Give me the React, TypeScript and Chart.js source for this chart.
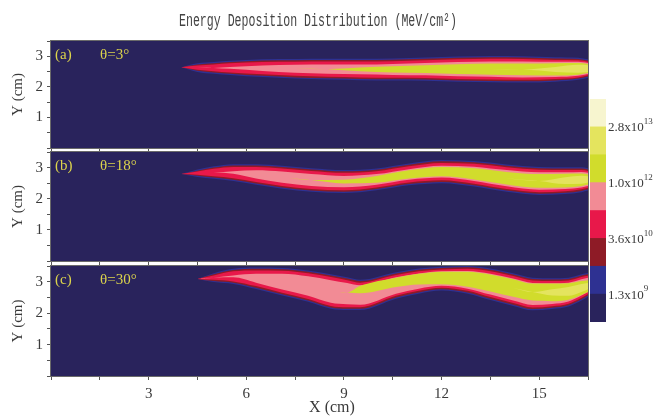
import React, { useEffect, useRef } from "react";
import { Chart, registerables } from "chart.js";

Chart.register(...registerables);

// ---- axis ticks ----
const xTickLabels = [3, 6, 9, 12, 15];
const yTickLabels = [1, 2, 3];

// ---- panel captions ----
const panelNames = ["(a)", "(b)", "(c)"];
const panelAngles = ["θ=3°", "θ=18°", "θ=30°"];

// ---- contour level colours, lowest level first ----
const levelColors = [
  "#29235c",
  "#2e3192",
  "#8e1b26",
  "#e8184a",
  "#f28b95",
  "#d1dc2c",
  "#e4e45e",
  "#f7f5cf",
];

// ---- colour bar ----
const colorbarBandSpan = [1, 1, 1, 1, 1, 1, 1, 1];
const colorbarLabelAt = [1, 3, 5, 7];
const colorbarMantissa = ["1.3", "3.6", "1.0", "2.8"];
const colorbarExponent = ["9", "10", "12", "13"];

// ---- beam ribbon: (a) θ=3° ----
const xA = [4.0, 4.5, 5.0, 5.5, 6.5, 7.5, 8.5, 9.5, 10.5, 11.5, 12.5, 13.5, 14.5, 15.5, 16.2, 16.5];
const centerA = [2.64, 2.63, 2.62, 2.62, 2.61, 2.59, 2.58, 2.57, 2.57, 2.58, 2.58, 2.58, 2.57, 2.57, 2.59, 2.6];
// half-widths of each contour level (outermost first)
const widthsA = [
  [0, 0.14, 0.19, 0.23, 0.29, 0.32, 0.34, 0.35, 0.36, 0.38, 0.41, 0.43, 0.43, 0.4, 0.36, 0.3],
  [0, 0.1, 0.15, 0.19, 0.25, 0.28, 0.3, 0.31, 0.32, 0.34, 0.37, 0.39, 0.39, 0.36, 0.32, 0.26],
  [0, 0.07, 0.11, 0.15, 0.2, 0.23, 0.25, 0.26, 0.27, 0.29, 0.32, 0.34, 0.34, 0.31, 0.28, 0.22],
  [0, 0, 0, 0.03, 0.09, 0.13, 0.15, 0.16, 0.18, 0.2, 0.23, 0.25, 0.26, 0.25, 0.23, 0.18],
  [0, 0, 0, 0, 0, 0, 0, 0.06, 0.1, 0.13, 0.16, 0.18, 0.19, 0.2, 0.19, 0.15],
  [0, 0, 0, 0, 0, 0, 0, 0, 0, 0, 0, 0, 0, 0.08, 0.13, 0.11],
];

// ---- beam ribbon: (b) θ=18° ----
const xB = [4.0, 4.5, 5.0, 5.6, 6.3, 7.1, 8.0, 9.0, 10.0, 11.0, 12.0, 13.0, 14.0, 15.0, 15.8, 16.3, 16.5];
const centerB = [2.79, 2.82, 2.84, 2.84, 2.78, 2.69, 2.6, 2.55, 2.62, 2.78, 2.87, 2.8, 2.66, 2.57, 2.58, 2.61, 2.62];
const widthsB = [
  [0, 0.12, 0.2, 0.27, 0.33, 0.37, 0.38, 0.37, 0.35, 0.35, 0.37, 0.41, 0.44, 0.45, 0.43, 0.4, 0.36],
  [0, 0.08, 0.16, 0.23, 0.29, 0.33, 0.34, 0.33, 0.31, 0.31, 0.33, 0.37, 0.4, 0.41, 0.39, 0.36, 0.32],
  [0, 0.05, 0.12, 0.18, 0.24, 0.28, 0.29, 0.28, 0.26, 0.26, 0.28, 0.32, 0.35, 0.36, 0.34, 0.31, 0.27],
  [0, 0, 0, 0.04, 0.13, 0.18, 0.19, 0.18, 0.17, 0.17, 0.19, 0.23, 0.26, 0.28, 0.27, 0.25, 0.21],
  [0, 0, 0, 0, 0, 0, 0, 0.06, 0.11, 0.13, 0.15, 0.18, 0.2, 0.22, 0.22, 0.2, 0.16],
  [0, 0, 0, 0, 0, 0, 0, 0, 0, 0, 0, 0, 0, 0, 0.11, 0.13, 0.1],
];

// ---- beam ribbon: (c) θ=30° ----
const xC = [4.5, 5.0, 5.6, 6.3, 7.1, 7.9, 8.6, 9.1, 9.5, 10.6, 11.3, 12.0, 12.8, 13.5, 14.2, 14.8, 15.4, 15.9, 16.3, 16.5];
const centerC = [3.09, 3.13, 3.17, 3.11, 3.0, 2.86, 2.69, 2.62, 2.58, 2.88, 3.02, 3.1, 3.06, 2.92, 2.75, 2.61, 2.62, 2.67, 2.82, 2.9];
// the hot core rides in the upper part of the ribbon after the first dip
const coreC = [3.09, 3.13, 3.17, 3.11, 3.0, 2.86, 2.69, 2.66, 2.75, 2.98, 3.08, 3.12, 3.08, 2.96, 2.8, 2.67, 2.66, 2.69, 2.8, 2.86];
const widthsC = [
  [0, 0.14, 0.24, 0.34, 0.44, 0.5, 0.55, 0.52, 0.48, 0.42, 0.4, 0.38, 0.44, 0.5, 0.52, 0.52, 0.49, 0.46, 0.42, 0.38],
  [0, 0.11, 0.2, 0.3, 0.4, 0.46, 0.51, 0.48, 0.44, 0.38, 0.36, 0.34, 0.4, 0.46, 0.48, 0.48, 0.45, 0.42, 0.38, 0.34],
  [0, 0.07, 0.16, 0.25, 0.35, 0.41, 0.46, 0.43, 0.39, 0.33, 0.31, 0.29, 0.35, 0.41, 0.43, 0.43, 0.4, 0.37, 0.33, 0.29],
  [0, 0, 0.03, 0.14, 0.25, 0.31, 0.36, 0.34, 0.31, 0.26, 0.24, 0.23, 0.28, 0.33, 0.35, 0.35, 0.33, 0.3, 0.26, 0.23],
  [0, 0, 0, 0, 0, 0, 0, 0, 0.12, 0.15, 0.17, 0.2, 0.24, 0.27, 0.28, 0.27, 0.28, 0.26, 0.22, 0.19],
  [0, 0, 0, 0, 0, 0, 0, 0, 0, 0, 0, 0, 0, 0, 0, 0, 0.1, 0.14, 0.13, 0.1],
];

const panelX = [xA, xB, xC];
const panelCenter = [centerA, centerB, centerC];
const panelCore = [centerA, centerB, coreC];
const panelWidths = [widthsA, widthsB, widthsC];

// ---- page layout (pixels) ----
const PAGE_W = 661;
const PAGE_H = 418;
const PLOT_LEFT = 51;
const PLOT_RIGHT = 588;
const PANEL_BOXES = [
  { top: 41, bottom: 148 },
  { top: 152, bottom: 261 },
  { top: 266, bottom: 376 },
];
const BAR_BOX = { left: 590, right: 606, top: 99, bottom: 322 };
const CORE_LEVEL = 4; // levels from this index on follow the core line

const SERIF = '"Liberation Serif", "DejaVu Serif", serif';
const TEXT_GRAY = "#3a3a3a";
const CAPTION_YELLOW = "#dcd44c";

// Builds upper/lower boundary pairs for each contour level; the upper
// line fills down to the lower one.
function ribbonDatasets(xs: number[], center: number[], core: number[], widths: number[][]) {
  const sets: any[] = [];
  widths.forEach((hw, k) => {
    const color = levelColors[k + 1];
    const mid = k >= CORE_LEVEL ? core : center;
    const common = {
      borderWidth: 0,
      borderColor: "rgba(0,0,0,0)",
      pointRadius: 0,
      cubicInterpolationMode: "monotone",
    };
    sets.push({
      ...common,
      data: xs.map((x, i) => ({ x, y: mid[i] + hw[i] })),
      fill: "+1",
      backgroundColor: color,
      order: 100 - 2 * k,
    });
    sets.push({
      ...common,
      data: xs.map((x, i) => ({ x, y: mid[i] - hw[i] })),
      fill: false,
      order: 99 - 2 * k,
    });
  });
  return sets;
}

const plotBackground = {
  id: "plotBackground",
  beforeDatasetsDraw(chart: any) {
    const { ctx, chartArea: a } = chart;
    ctx.save();
    ctx.fillStyle = levelColors[0];
    ctx.fillRect(a.left, a.top, a.right - a.left, a.bottom - a.top);
    ctx.restore();
  },
};

const plotFrame = {
  id: "plotFrame",
  afterDraw(chart: any) {
    const { ctx, chartArea: a } = chart;
    ctx.save();
    ctx.strokeStyle = "#6a6a6a";
    ctx.lineWidth = 1;
    ctx.strokeRect(a.left - 0.5, a.top - 0.5, a.right - a.left + 1, a.bottom - a.top + 1);
    ctx.restore();
  },
};

function panelCaptions(i: number) {
  return {
    id: "panelCaptions" + i,
    afterDraw(chart: any) {
      const { ctx, chartArea: a } = chart;
      ctx.save();
      ctx.fillStyle = CAPTION_YELLOW;
      ctx.font = "15px " + SERIF;
      ctx.textBaseline = "middle";
      ctx.textAlign = "left";
      ctx.fillText(panelNames[i], 55, a.top + 14);
      ctx.fillText(panelAngles[i], 100, a.top + 14);

      // y axis title
      ctx.fillStyle = TEXT_GRAY;
      ctx.translate(18, (a.top + a.bottom) / 2);
      ctx.rotate(-Math.PI / 2);
      ctx.textAlign = "center";
      ctx.fillText("Y (cm)", 0, 0);
      ctx.restore();

      if (i === 0) {
        // figure title, narrow monospaced face
        const title = "Energy Deposition Distribution (MeV/cm²)";
        ctx.save();
        ctx.font = '18px "Liberation Mono", monospace';
        const w = ctx.measureText(title).width;
        const target = 278;
        ctx.translate(318, 26);
        ctx.scale(target / w, 1);
        ctx.fillStyle = "#444";
        ctx.textAlign = "center";
        ctx.textBaseline = "alphabetic";
        ctx.fillText(title, 0, 0);
        ctx.restore();
      }
      if (i === 2) {
        ctx.save();
        ctx.fillStyle = TEXT_GRAY;
        ctx.font = "16px " + SERIF;
        ctx.textAlign = "center";
        ctx.textBaseline = "middle";
        ctx.fillText("X (cm)", 332, 408);
        ctx.restore();
      }
    },
  };
}

function panelConfig(i: number): any {
  const last = i === 2;
  const box = PANEL_BOXES[i];
  const xAxisH = last ? 40 : 4;
  const tickFont = { family: SERIF, size: 15 };
  return {
    type: "line",
    data: { datasets: ribbonDatasets(panelX[i], panelCenter[i], panelCore[i], panelWidths[i]) },
    options: {
      responsive: false,
      animation: false,
      events: [],
      layout: {
        padding: {
          left: 0,
          top: box.top,
          right: PAGE_W - PLOT_RIGHT,
          bottom: PAGE_H - box.bottom - xAxisH,
        },
      },
      plugins: {
        legend: { display: false },
        tooltip: { enabled: false },
        title: { display: false },
      },
      scales: {
        x: {
          type: "linear",
          min: 0,
          max: 16.5,
          afterFit: (s: any) => {
            s.height = xAxisH;
          },
          ticks: {
            display: last,
            stepSize: 1.5,
            autoSkip: false,
            maxRotation: 0,
            padding: 5,
            color: TEXT_GRAY,
            font: tickFont,
            callback: (v: number) => (xTickLabels.includes(v) ? String(v) : ""),
          },
          grid: { drawOnChartArea: false, drawTicks: true, tickLength: 4, color: "#555" },
          border: { display: true, color: "#6a6a6a" },
        },
        y: {
          type: "linear",
          min: 0,
          max: 3.5,
          afterFit: (s: any) => {
            s.width = PLOT_LEFT;
          },
          ticks: {
            stepSize: 0.5,
            autoSkip: false,
            padding: 4,
            color: TEXT_GRAY,
            font: tickFont,
            callback: (v: number) => (yTickLabels.includes(v) ? String(v) : ""),
          },
          grid: { drawOnChartArea: false, drawTicks: true, tickLength: 4, color: "#555" },
          border: { display: true, color: "#6a6a6a" },
        },
      },
    },
    plugins: [plotBackground, plotFrame, panelCaptions(i)],
  };
}

const colorbarLabels = {
  id: "colorbarLabels",
  afterDraw(chart: any) {
    const { ctx } = chart;
    const yScale = chart.scales.y;
    ctx.save();
    ctx.fillStyle = TEXT_GRAY;
    ctx.textBaseline = "middle";
    ctx.textAlign = "left";
    colorbarLabelAt.forEach((v, k) => {
      const y = yScale.getPixelForValue(v);
      const base = colorbarMantissa[k] + "x10";
      ctx.font = "13px " + SERIF;
      ctx.fillText(base, BAR_BOX.right + 2, y + 1);
      const w = ctx.measureText(base).width;
      ctx.font = "9px " + SERIF;
      ctx.fillText(colorbarExponent[k], BAR_BOX.right + 2 + w, y - 5);
    });
    ctx.restore();
  },
};

function colorbarConfig(): any {
  return {
    type: "bar",
    data: {
      labels: [""],
      datasets: colorbarBandSpan.map((span, k) => ({
        data: [span],
        backgroundColor: levelColors[k],
        borderWidth: 0,
        barPercentage: 1,
        categoryPercentage: 1,
      })),
    },
    options: {
      responsive: false,
      animation: false,
      events: [],
      layout: {
        padding: {
          left: BAR_BOX.left,
          right: PAGE_W - BAR_BOX.right,
          top: BAR_BOX.top,
          bottom: PAGE_H - BAR_BOX.bottom,
        },
      },
      plugins: { legend: { display: false }, tooltip: { enabled: false } },
      scales: {
        x: { display: false, stacked: true },
        y: { display: false, stacked: true, min: 0, max: 8 },
      },
    },
    plugins: [colorbarLabels],
  };
}

export default function App() {
  const refs = [
    useRef<HTMLCanvasElement>(null),
    useRef<HTMLCanvasElement>(null),
    useRef<HTMLCanvasElement>(null),
    useRef<HTMLCanvasElement>(null),
  ];

  useEffect(() => {
    const charts: Chart[] = [];
    for (let i = 0; i < 3; i++) {
      charts.push(new Chart(refs[i].current as HTMLCanvasElement, panelConfig(i)));
    }
    charts.push(new Chart(refs[3].current as HTMLCanvasElement, colorbarConfig()));
    return () => charts.forEach((c) => c.destroy());
  }, []);

  const canvasStyle: React.CSSProperties = {
    position: "absolute",
    left: 0,
    top: 0,
    width: PAGE_W,
    height: PAGE_H,
  };

  return (
    <div
      style={{
        position: "fixed",
        left: 0,
        top: 0,
        width: PAGE_W,
        height: PAGE_H,
        background: "#ffffff",
        overflow: "hidden",
      }}
    >
      {refs.map((r, i) => (
        <canvas key={i} ref={r} width={PAGE_W} height={PAGE_H} style={canvasStyle} />
      ))}
    </div>
  );
}
